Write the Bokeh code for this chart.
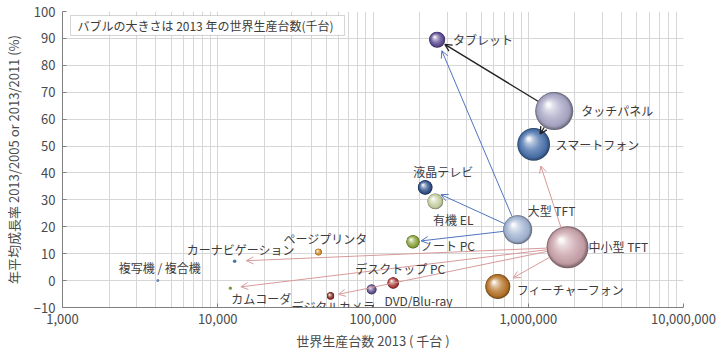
import math
from bokeh.plotting import figure
from bokeh.models import FixedTicker, NumeralTickFormatter, Label, Arrow, OpenHead, BoxAnnotation, Range1d
from bokeh.embed import file_html
from bokeh.resources import INLINE

# ---------------- data ----------------
products = ["タブレット", "タッチパネル", "スマートフォン", "液晶テレビ", "有機 EL", "大型 TFT",
            "中小型 TFT", "ノート PC", "フィーチャーフォン", "デスクトップ PC", "DVD/Blu-ray",
            "デジタルカメラ", "ページプリンタ", "カーナビゲーション", "カムコーダ", "複写機 / 複合機"]
production_2013 = [259000, 1470000, 1084000, 217000, 252000, 855000,
                   1790000, 181000, 637000, 135000, 98000,
                   53300, 44500, 12850, 12050, 4110]
growth_rate = [89.5, 63.0, 50.6, 34.6, 29.4, 18.9,
               12.4, 14.4, -2.2, -0.9, -3.3,
               -5.7, 10.6, 7.2, -2.8, 0.0]
x_ticks = [1000, 10000, 100000, 1000000, 10000000]
y_ticks = [-10, 0, 10, 20, 30, 40, 50, 60, 70, 80, 90, 100]
arrows = [("タッチパネル", "タブレット"), ("タッチパネル", "スマートフォン"),
          ("大型 TFT", "タブレット"), ("大型 TFT", "液晶テレビ"), ("大型 TFT", "ノート PC"),
          ("中小型 TFT", "スマートフォン"), ("中小型 TFT", "カーナビゲーション"),
          ("中小型 TFT", "カムコーダ"), ("中小型 TFT", "デジタルカメラ"), ("中小型 TFT", "フィーチャーフォン")]
note_text = "バブルの大きさは 2013 年の世界生産台数(千台)"

# ---------------- styles ----------------
base_colors = ["#5e4c94", "#aaa8c6", "#4a72ac", "#2f5088", "#c6d0a2", "#a4b6d4",
               "#c9a2aa", "#8ca43c", "#b8752a", "#a83838", "#5c4c8c",
               "#8c2c24", "#d08a2a", "#4a78a8", "#7a9a3a", "#6a8ab0"]
# label offsets in screen px (dx right, dy down), alignment
label_style = [(16, 0, "left"), (27, -1, "left"), (22, 0, "left"), (18, -16, "center"),
               (18, 18, "center"), (10, -19, "left"), (21, -1, "left"), (8, 4, "left"),
               (19, 3, "left"), (7, -15, "center"), (13, 11, "left"), (3, 11, "center"),
               (7, -14, "center"), (6, -12, "center"), (1, 10, "left"), (2, -13, "center")]
arrow_style = [("#222222", 1.3, 1), ("#222222", 1.3, -4),
               ("#4f74c0", 1.0, 4), ("#4f74c0", 1.0, 10), ("#4f74c0", 1.0, 1.5),
               ("#d89a9a", 1.0, 6.5), ("#d89a9a", 1.0, 10), ("#d89a9a", 1.0, 9),
               ("#d89a9a", 1.0, 4.5), ("#d89a9a", 1.0, 5)]
FONT = "Noto Sans CJK JP"
TXT = "#3c3c3c"

W, H = 721, 352
FL, FR, FT, FB = 60, 683, 11, 308
X_MIN, X_MAX, Y_MIN, Y_MAX = 1e3, 1e7, -10, 100
PPD = (FR - FL) / math.log10(X_MAX / X_MIN)
PPU = (FB - FT) / (Y_MAX - Y_MIN)
R_K = 0.0157  # bubble radius px per sqrt(thousand units)


def to_px(x, y):
    return FL + math.log10(x / X_MIN) * PPD, FB - (y - Y_MIN) * PPU


def from_px(sx, sy):
    return X_MIN * 10 ** ((sx - FL) / PPD), Y_MIN + (FB - sy) / PPU


def shift(x, y, dx, dy):
    return x * 10 ** (dx / PPD), y - dy / PPU


def hex2rgb(h):
    return tuple(int(h[i:i + 2], 16) for i in (1, 3, 5))


def mix(c1, c2, a):
    return "#%02x%02x%02x" % tuple(int(round(c1[k] * (1 - a) + c2[k] * a)) for k in range(3))


def shade(base, t):
    b = hex2rgb(base)
    stops = [(0.0, (0, 0, 0), 0.38), (0.14, (0, 0, 0), 0.05), (0.5, (255, 255, 255), 0.22),
             (0.82, (255, 255, 255), 0.6), (1.0, (255, 255, 255), 0.93)]
    for (t0, c0, a0), (t1, c1, a1) in zip(stops[:-1], stops[1:]):
        if t0 <= t <= t1:
            f = (t - t0) / (t1 - t0)
            s0 = tuple(b[k] * (1 - a0) + c0[k] * a0 for k in range(3))
            s1 = tuple(b[k] * (1 - a1) + c1[k] * a1 for k in range(3))
            return mix(s0, s1, f)
    return base


p = figure(width=W, height=H, x_axis_type="log",
           x_range=Range1d(X_MIN, X_MAX), y_range=Range1d(Y_MIN, Y_MAX),
           min_border_left=FL, min_border_right=W - FR, min_border_top=FT, min_border_bottom=H - FB,
           output_backend="svg", toolbar_location=None)
p.outline_line_color = None
p.background_fill_color = "white"

# grids
minor = [m * d for d in x_ticks[:-1] for m in range(2, 10)]
p.xgrid.ticker = FixedTicker(ticks=x_ticks, minor_ticks=minor)
p.xgrid.grid_line_color = "#d6d6d6"
p.xgrid.minor_grid_line_color = "#d6d6d6"
p.ygrid.ticker = FixedTicker(ticks=[t for t in y_ticks if -10 < t < 100])
p.ygrid.grid_line_color = "#d6d6d6"

# axes
p.xaxis.ticker = FixedTicker(ticks=x_ticks)
p.xaxis.formatter = NumeralTickFormatter(format="0,0")
p.yaxis.ticker = FixedTicker(ticks=y_ticks)
p.yaxis.major_label_overrides = {-10: "\u221210"}
p.xaxis.axis_label = "世界生産台数 2013 ( 千台 )"
p.yaxis.axis_label = "年平均成長率 2013/2005 or 2013/2011 (%)"
for ax in (p.xaxis, p.yaxis):
    ax.axis_line_color = "#808080"
    ax.major_tick_line_color = "#808080"
    ax.major_tick_in = 4
    ax.major_tick_out = 0
    ax.minor_tick_line_color = None
    ax.major_label_text_font = FONT
    ax.major_label_text_font_size = "13px"
    ax.major_label_text_color = "#4a4a4a"
    ax.axis_label_text_font = FONT
    ax.axis_label_text_font_size = "13px"
    ax.axis_label_text_font_style = "normal"
    ax.axis_label_text_color = "#4a4a4a"
p.xaxis.major_label_standoff = 6
p.xaxis.axis_label_standoff = 4
p.yaxis.major_label_standoff = 7
p.yaxis.axis_label_standoff = 8

# bubbles (layered circles give a spherical look)
radius = [R_K * math.sqrt(v) for v in production_2013]
N = 24
big = [i for i in range(len(products)) if radius[i] >= 2.5]
small = [i for i in range(len(products)) if radius[i] < 2.5]
for k in range(N):
    t = k / (N - 1)
    xs, ys, ss, cs = [], [], [], []
    for i in big:
        r = radius[i]
        cx, cy = shift(production_2013[i], growth_rate[i], -0.30 * r * t, -0.34 * r * t)
        xs.append(cx)
        ys.append(cy)
        ss.append(2 * r * (1 - 0.9 * t))
        cs.append(shade(base_colors[i], t))
    p.scatter(xs, ys, size=ss, color=cs, line_color=None)
p.scatter([production_2013[i] for i in small], [growth_rate[i] for i in small],
          size=[max(2 * radius[i], 3) for i in small],
          color=[base_colors[i] for i in small], line_color=None)

# arrows
idx = {n: i for i, n in enumerate(products)}
for (src, dst), (col, lw, gap) in zip(arrows, arrow_style):
    i, j = idx[src], idx[dst]
    sx0, sy0 = to_px(production_2013[i], growth_rate[i])
    sx1, sy1 = to_px(production_2013[j], growth_rate[j])
    d = math.hypot(sx1 - sx0, sy1 - sy0)
    ux, uy = (sx1 - sx0) / d, (sy1 - sy0) / d
    xa, ya = from_px(sx0 + ux * radius[i], sy0 + uy * radius[i])
    xb, yb = from_px(sx1 - ux * (radius[j] + gap), sy1 - uy * (radius[j] + gap))
    p.add_layout(Arrow(x_start=xa, y_start=ya, x_end=xb, y_end=yb,
                       line_color=col, line_width=lw,
                       end=OpenHead(size=7, line_color=col, line_width=lw)))

# bubble labels
for i, name in enumerate(products):
    dx, dy, al = label_style[i]
    lx, ly = shift(production_2013[i], growth_rate[i], dx, dy)
    p.add_layout(Label(x=lx, y=ly, text=name, text_align=al, text_baseline="middle",
                       text_font=FONT, text_font_size="12px", text_color=TXT))

# note box
bl, bt = from_px(68, 15)
br, bb = from_px(343, 35)
p.add_layout(BoxAnnotation(left=bl, right=br, top=bt, bottom=bb, fill_color="white",
                           fill_alpha=1.0, line_color="#707070", line_width=1))
tx, ty = from_px(75, 25)
p.add_layout(Label(x=tx, y=ty, text=note_text, text_align="left", text_baseline="middle",
                   text_font=FONT, text_font_size="12px", text_color=TXT))

open("out.html", "w").write(file_html(p, INLINE))
